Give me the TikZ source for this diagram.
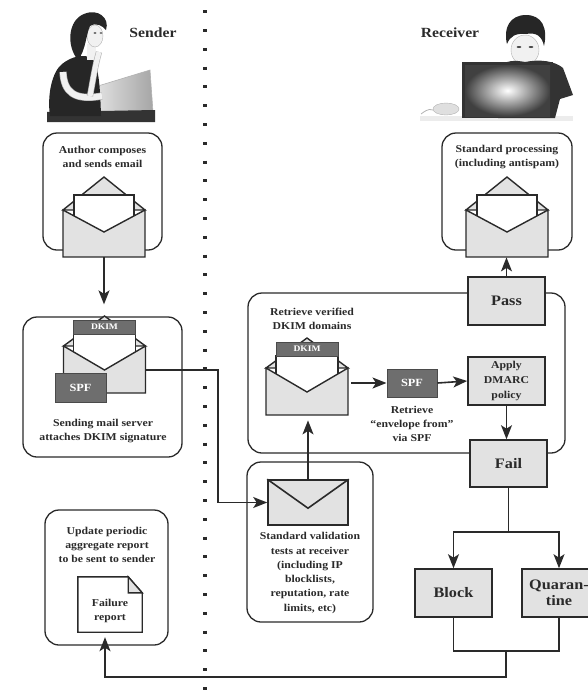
\documentclass[tikz,border=0pt]{standalone}
\usepackage{fontspec}
\setmainfont{Liberation Serif}[FakeStretch=1.12]
\usetikzlibrary{arrows.meta,calc}

\definecolor{ink}{HTML}{2A2A2A}
\definecolor{lightfill}{HTML}{E2E2E2}
\definecolor{darkfill}{HTML}{6E6E6E}
\definecolor{skin}{HTML}{F1F1F1}

\tikzset{
  lbl/.style={text=ink, font=\bfseries\fontsize{10.5}{14.3}\selectfont, align=center, inner sep=0},
  headline/.style={text=ink, font=\bfseries\fontsize{14}{16}\selectfont, inner sep=0},
  stage/.style={draw=ink, line width=1.3pt, rounded corners=14pt, inner sep=0},
  decision/.style={draw=ink, fill=lightfill, line width=1.6pt, text=ink, align=center, inner sep=0,
    font=\bfseries\fontsize{14.5}{16}\selectfont},
  tagbox/.style={draw=ink!85, fill=darkfill, text=white, line width=1pt, inner sep=0},
  envline/.style={draw=ink, line width=1.4pt},
  link/.style={draw=ink, line width=1.6pt},
  flow/.style={link, -{Stealth[length=14pt,width=11pt,inset=3.5pt]}},
  % open envelope with a letter sticking out
  openenv/.pic={
    \filldraw[envline, fill=lightfill] (-41,0) -- (0,-33) -- (41,0) -- cycle;
    \filldraw[envline, fill=white] (-30,-15) rectangle (30,30);
    \filldraw[envline, fill=lightfill] (-41,0) -- (0,22) -- (41,0) -- (41,47) -- (-41,47) -- cycle;
    \node[inner sep=0, minimum width=82pt, minimum height=47pt, anchor=north] (-body) at (0,0) {};
  },
  % open envelope whose letter carries a DKIM header
  dkimenv/.pic={
    \filldraw[envline, fill=lightfill] (-41,0) -- (0,-30) -- (41,0) -- cycle;
    \filldraw[envline, fill=white] (-31,-12) rectangle (31,30);
    \node[tagbox, minimum width=62pt, minimum height=14pt,
          font=\bfseries\fontsize{8.5}{9}\selectfont] (-dkim) at (0,-19) {DKIM};
    \filldraw[envline, fill=lightfill] (-41,0) -- (0,24) -- (41,0) -- (41,47) -- (-41,47) -- cycle;
    \node[inner sep=0, minimum width=82pt, minimum height=47pt, anchor=north] (-body) at (0,0) {};
  },
}

\begin{document}
\begin{tikzpicture}[x=1pt, y=-1pt]
\useasboundingbox (0,0) rectangle (588,691);

% ---------- dotted divider between sender and receiver ----------
\coordinate (divtop) at (205,10.2);
\coordinate (divbot) at (205,691);
\draw[ink, line width=3.3pt, dash pattern=on 3pt off 15.8pt] (divtop) -- (divbot);

% ---------- sender: woman at a laptop ----------
\shade[left color=gray!25, right color=gray!70] (98,86) -- (150,70) -- (153,112) -- (100,114) -- cycle;
\draw[gray!60, line width=0.6pt] (98,86) -- (150,70) -- (153,112);
\fill[black!80] (47,112) -- (155,110) -- (155,122) -- (47,122) -- cycle;
\fill[black!85] (50,116) .. controls (47,95) and (52,72) .. (62,64)
  .. controls (72,56) and (84,54) .. (92,58) .. controls (98,66) and (100,80) .. (101,116) -- cycle;
\fill[skin] (87,44) rectangle (96,60);
\filldraw[draw=gray!60, fill=skin] (95,36) ellipse [x radius=8, y radius=11];
\fill[black!85] (78,60) .. controls (66,46) and (68,20) .. (84,14)
  .. controls (98,8) and (110,18) .. (106,30) .. controls (103,26) and (96,22) .. (90,26)
  .. controls (86,34) and (86,50) .. (78,60) -- cycle;
\fill[black!70] (95,33) ellipse [x radius=1.6, y radius=0.9];
\fill[black!70] (101,33) ellipse [x radius=1.4, y radius=0.9];
\draw[draw=gray!60, double=skin, double distance=6pt, line width=0.6pt]
  (63,72) .. controls (64,92) and (74,101) .. (102,96);
\draw[draw=gray!60, double=skin, double distance=5pt, line width=0.6pt]
  (90,96) .. controls (93,80) and (95,66) .. (99,52);
\node[headline] (senderhead) at (153,33) {Sender};

% ---------- receiver: man behind a monitor ----------
\fill[gray!15] (420,116) rectangle (573,121);
\filldraw[draw=gray!60, fill=skin] (525,50) ellipse [x radius=14, y radius=15];
\fill[black!85] (507,44) .. controls (503,28) and (510,15) .. (526,15)
  .. controls (542,15) and (548,28) .. (544,46) .. controls (542,36) and (536,32) .. (526,34)
  .. controls (516,33) and (510,36) .. (507,44) -- cycle;
\fill[black!70] (519,47) ellipse [x radius=2.4, y radius=1];
\fill[black!70] (531,47) ellipse [x radius=2.4, y radius=1];
\fill[black!80] (498,68) .. controls (505,60) and (515,60) .. (525,62)
  .. controls (540,59) and (555,61) .. (563,68) -- (573,95) -- (560,99) -- (555,118) -- (498,118) -- cycle;
\fill[black!80] (462,62) rectangle (553,118);
\shade[inner color=white, outer color=black!75] (465,65) rectangle (550,116);
\filldraw[draw=gray!60, fill=gray!25] (446,109) ellipse [x radius=13, y radius=6];
\draw[gray!60, line width=0.8pt] (433,110) .. controls (428,108) and (424,112) .. (421,114);
\node[headline] (receiverhead) at (450,33) {Receiver};

% ---------- stage frames ----------
\node[stage, minimum width=119pt, minimum height=117pt] (author) at (102.5,191.5) {};
\node[stage, minimum width=130pt, minimum height=117pt] (process) at (507,191.5) {};
\node[stage, minimum width=159pt, minimum height=140pt] (sending) at (102.5,387) {};
\node[stage, minimum width=317pt, minimum height=160pt] (dmarc) at (406.5,373) {};
\node[stage, minimum width=126pt, minimum height=160pt] (validate) at (310,542) {};
\node[stage, minimum width=123pt, minimum height=135pt] (update) at (106.5,577.5) {};

% ---------- stage captions ----------
\node[lbl] (authortext) at (102.5,157) {Author composes\\and sends email};
\node[lbl] (processtext) at (507,157) {Standard processing\\(including antispam)};
\node[lbl] (sendingtext) at (103,431) {Sending mail server\\attaches DKIM signature};
\node[lbl] (validatetext) at (310,573) {Standard validation\\tests at receiver\\(including IP\\blocklists,\\reputation, rate\\limits, etc)};
\node[lbl] (updatetext) at (107,545) {Update periodic\\aggregate report\\to be sent to sender};
\node[lbl] (dkimtext) at (312,318.5) {Retrieve verified\\DKIM domains};
\node[lbl] (spftext) at (412,424) {Retrieve\\“envelope from”\\via SPF};

% ---------- envelopes ----------
\pic (envA) at (104,210) {openenv};
\pic (envP) at (507,210) {openenv};
\pic (envS) at (104.5,346) {dkimenv};
\pic (envR) at (307,368) {dkimenv};
\node[tagbox, minimum width=51pt, minimum height=29pt,
      font=\bfseries\fontsize{11}{12}\selectfont] (spfS) at (80.5,387.5) {SPF};

\node[draw=ink, fill=lightfill, line width=1.6pt, minimum width=80pt, minimum height=45pt, inner sep=0]
  (envV) at (308,502.5) {};
\draw[ink, line width=1.6pt] (envV.north west) -- ($(envV.north)+(0,29)$) -- (envV.north east);

% ---------- failure report page ----------
\node[inner sep=0, minimum width=64pt, minimum height=55pt] (report) at (110,604.5) {};
\filldraw[envline, fill=white] (report.north west) -- ($(report.north east)+(-14,0)$)
  -- ($(report.north east)+(0,16)$) -- (report.south east) -- (report.south west) -- cycle;
\filldraw[envline, fill=lightfill] ($(report.north east)+(-14,0)$) -- ($(report.north east)+(-14,16)$)
  -- ($(report.north east)+(0,16)$) -- cycle;
\node[lbl] (reporttext) at (110,611) {Failure\\report};

% ---------- DMARC evaluation ----------
\node[tagbox, minimum width=50pt, minimum height=28pt,
      font=\bfseries\fontsize{11}{12}\selectfont] (spfR) at (412,383) {SPF};
\node[decision, minimum width=77pt, minimum height=48pt] (pass) at (506.5,301) {Pass};
\node[decision, minimum width=77pt, minimum height=48pt,
      font=\bfseries\fontsize{10.5}{15}\selectfont] (apply) at (506.5,381) {Apply\\DMARC\\policy};
\node[decision, minimum width=77pt, minimum height=47pt] (fail) at (508.5,463.5) {Fail};
\node[decision, minimum width=77pt, minimum height=48pt] (block) at (453.5,593) {Block};
\node[decision, minimum width=74pt, minimum height=48pt] (quar) at (559,593) {Quaran-\\tine};

% ---------- connectors ----------
\coordinate (jog) at (218,440);
\coordinate (fork) at (508.5,532);
\coordinate (merge) at (506,651);
\coordinate (ret) at (506,677);

\draw[flow, shorten >=12pt] (envA-body.south) -- (envA-body.south |- sending.north);
\draw[flow] (envS-body.east) -| (jog) |- (envV.west);
\draw[flow, shorten >=5pt] (envV.north) -- (envV.north |- envR-body.south);
\draw[flow, shorten <=3pt] (envR-body.east |- spfR.west) -- (spfR.west);
\draw[flow] (spfR.east) -- (apply.west);
\draw[flow] (apply.south) -- (apply.south |- fail.north);
\draw[flow] (pass.north) -- (pass.north |- envP-body.south);
\draw[link] (fail.south) -- (fork);
\draw[flow] (fork) -| (block.north);
\draw[flow] (fork) -| (quar.north);
\draw[link] (block.south) |- (merge) -| (quar.south);
\draw[flow, shorten >=5pt] (merge) -- (ret) -| ($(report.south)+(-5,0)$);

\end{tikzpicture}
\end{document}
